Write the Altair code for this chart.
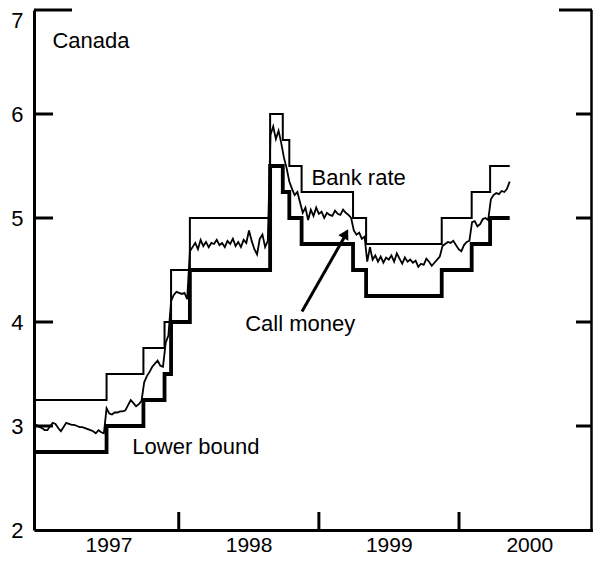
import altair as alt
import pandas as pd

# ---- data ----
bank_dates = ["1996-12-20", "1997-06-27", "1997-10-01", "1997-11-25", "1997-12-12",
              "1998-01-30", "1998-08-27", "1998-09-29", "1998-10-16", "1998-11-17",
              "1999-03-31", "1999-05-04", "1999-11-17", "2000-02-03", "2000-03-22",
              "2000-05-12"]
bank_rate = [3.25, 3.5, 3.75, 4.0, 4.5, 5.0, 6.0, 5.75, 5.5, 5.25, 5.0, 4.75, 5.0,
             5.25, 5.5, 5.5]
lower_bound = [2.75, 3.0, 3.25, 3.5, 4.0, 4.5, 5.5, 5.25, 5.0, 4.75, 4.5, 4.25, 4.5,
               4.75, 5.0, 5.0]

call_start = "1996-12-20"  # weekly observations
call_money = [
    3.00, 3.01, 2.99, 2.98, 2.96, 2.96, 3.00, 3.03, 3.02, 2.98, 2.95, 2.99, 3.03, 3.02,
    3.01, 3.01, 3.00, 2.99, 2.99, 2.98, 2.97, 2.96, 2.95, 2.93, 2.96, 2.94, 2.93,
    3.17, 3.12, 3.11, 3.13, 3.13, 3.14, 3.14, 3.15, 3.20, 3.25, 3.22, 3.19, 3.21, 3.24,
    3.42, 3.48, 3.52, 3.57, 3.60, 3.63, 3.58, 3.57,
    3.80, 3.87,
    4.20, 4.26, 4.29, 4.28, 4.27, 4.28, 4.22,
    4.68, 4.72, 4.76, 4.70, 4.79, 4.73, 4.77, 4.72, 4.76, 4.75, 4.79, 4.74, 4.76, 4.72,
    4.78, 4.75, 4.80, 4.73, 4.77, 4.72, 4.79, 4.76, 4.88, 4.78, 4.70, 4.65, 4.80, 4.84,
    4.72, 4.78,
    5.80, 5.88, 5.76, 5.84, 5.72,
    5.58, 5.48,
    5.35, 5.28, 5.22, 5.25, 5.15,
    5.05, 5.10, 4.98, 5.08, 5.02, 5.10, 5.04, 5.06, 5.00, 5.05, 5.03, 5.02, 5.07, 5.04,
    5.03, 5.08, 5.05, 5.03, 5.00,
    4.88, 4.84, 4.86, 4.80, 4.82,
    4.58, 4.72, 4.60, 4.64, 4.58, 4.63, 4.57, 4.62, 4.60, 4.64, 4.58, 4.66, 4.61, 4.56,
    4.62, 4.58, 4.60, 4.57, 4.59, 4.53, 4.56, 4.55, 4.61, 4.58, 4.54, 4.57, 4.60, 4.63,
    4.73, 4.75, 4.77, 4.76, 4.78, 4.74, 4.70, 4.68, 4.74, 4.77, 4.78,
    4.96, 4.97, 4.92, 4.94, 4.99, 5.00, 4.98,
    5.18, 5.22, 5.24, 5.23, 5.26, 5.25, 5.28, 5.35,
]
call_dates = pd.date_range(call_start, periods=len(call_money), freq="7D").strftime("%Y-%m-%d").tolist()

label_text = ["Canada", "Bank rate", "Call money", "Lower bound"]
label_date = ["1997-02-06", "1998-12-13", "1998-06-23", "1997-09-02"]
label_val = [6.63, 5.32, 3.91, 2.73]

arrow_date = ["1998-11-18"]
arrow_val = [4.10]
arrow_date2 = ["1999-03-09"]
arrow_val2 = [4.82]
head_date = ["1999-03-12"]
head_val = [4.85]

year_label_dates = ["1997-07-02", "1998-07-02", "1999-07-02", "2000-07-02"]
year_tick_dates = ["1998-01-01", "1999-01-01", "2000-01-01"]
y_ticks = [3, 4, 5, 6]
y_top = [7]

W, H = 559, 520
FONT = "Liberation Sans"

xscale = alt.Scale(domain=[alt.DateTime(year=1996, month=12, date=20, utc=True),
                           alt.DateTime(year=2000, month=12, date=15, utc=True)])
yscale = alt.Scale(domain=[2, 7], nice=False, zero=False)
xaxis = alt.Axis(values=year_label_dates, format="%Y", ticks=False, grid=False,
                 domainWidth=3, domainColor="black", labelFontSize=21, labelFont=FONT,
                 labelColor="black", labelPadding=4, title=None, labelFlush=False)
yaxis = alt.Axis(values=[2, 3, 4, 5, 6, 7], ticks=False, grid=False, domainWidth=3,
                 domainColor="black", labelFontSize=22, labelFont=FONT, labelColor="black",
                 labelPadding=11, title=None,
                 labelBaseline={"condition": {"test": "datum.value == 7", "value": "top"},
                                "value": "middle"})

def X(f):
    return alt.X(f, type="temporal", scale=xscale, axis=xaxis, title=None)

def Y(f):
    return alt.Y(f, type="quantitative", scale=yscale, axis=yaxis, title=None)

bank_df = pd.DataFrame({"d": bank_dates, "v": bank_rate})
low_df = pd.DataFrame({"d": bank_dates, "v": lower_bound})
call_df = pd.DataFrame({"d": call_dates, "v": call_money})
lab_df = pd.DataFrame({"d": label_date, "v": label_val, "t": label_text})
arr_df = pd.DataFrame({"d": arrow_date, "v": arrow_val, "d2": arrow_date2, "v2": arrow_val2})
head_df = pd.DataFrame({"d": head_date, "v": head_val})
xt_df = pd.DataFrame({"d": year_tick_dates})
yt_df = pd.DataFrame({"v": y_ticks})
ytop_df = pd.DataFrame({"v": y_top})

bank = alt.Chart(bank_df).mark_line(interpolate="step-after", color="black", strokeWidth=2.0).encode(
    x=X("d"), y=Y("v"))
low = alt.Chart(low_df).mark_line(interpolate="step-after", color="black", strokeWidth=3.8).encode(
    x=X("d"), y=Y("v"))
call = alt.Chart(call_df).mark_line(color="black", strokeWidth=1.8).encode(x=X("d"), y=Y("v"))

labels = alt.Chart(lab_df).mark_text(align="left", baseline="alphabetic", fontSize=22,
                                     font=FONT, color="black").encode(
    x=X("d"), y=Y("v"), text="t:N")

shaft = alt.Chart(arr_df).mark_rule(color="black", strokeWidth=3).encode(
    x=X("d"), y=Y("v"), x2="d2:T", y2="v2:Q")
head = alt.Chart(head_df).mark_point(shape="triangle-up", filled=True, color="black",
                                     size=130, angle=29, opacity=1).encode(x=X("d"), y=Y("v"))

left_ticks = alt.Chart(yt_df).mark_rule(color="black", strokeWidth=3).encode(
    y=Y("v"), x=alt.value(0), x2=alt.value(19))
right_ticks = alt.Chart(yt_df).mark_rule(color="black", strokeWidth=3).encode(
    y=Y("v"), x=alt.value(W - 17), x2=alt.value(W - 1))
top_left = alt.Chart(ytop_df).mark_rule(color="black", strokeWidth=3).encode(
    y=Y("v"), x=alt.value(0), x2=alt.value(38))
top_right = alt.Chart(ytop_df).mark_rule(color="black", strokeWidth=3).encode(
    y=Y("v"), x=alt.value(W - 34), x2=alt.value(W - 1))
right_border = alt.Chart(ytop_df).mark_rule(color="black", strokeWidth=2.5).encode(
    y=Y("v"), y2=alt.value(H), x=alt.value(W - 1.5))
bottom_ticks = alt.Chart(xt_df).mark_rule(color="black", strokeWidth=3).encode(
    x=X("d"), y=alt.value(H), y2=alt.value(H - 18))

chart = alt.layer(
    bank, low, call, labels, shaft, head,
    left_ticks, right_ticks, top_left, top_right, right_border, bottom_ticks
).properties(
    width=W, height=H,
    autosize=alt.AutoSizeParams(type="none"),
    padding={"left": 26, "top": 2, "right": 0, "bottom": 25},
    background="white",
).configure_view(stroke=None)

chart.save("out.html", embed_options={"renderer": "svg", "actions": False})
